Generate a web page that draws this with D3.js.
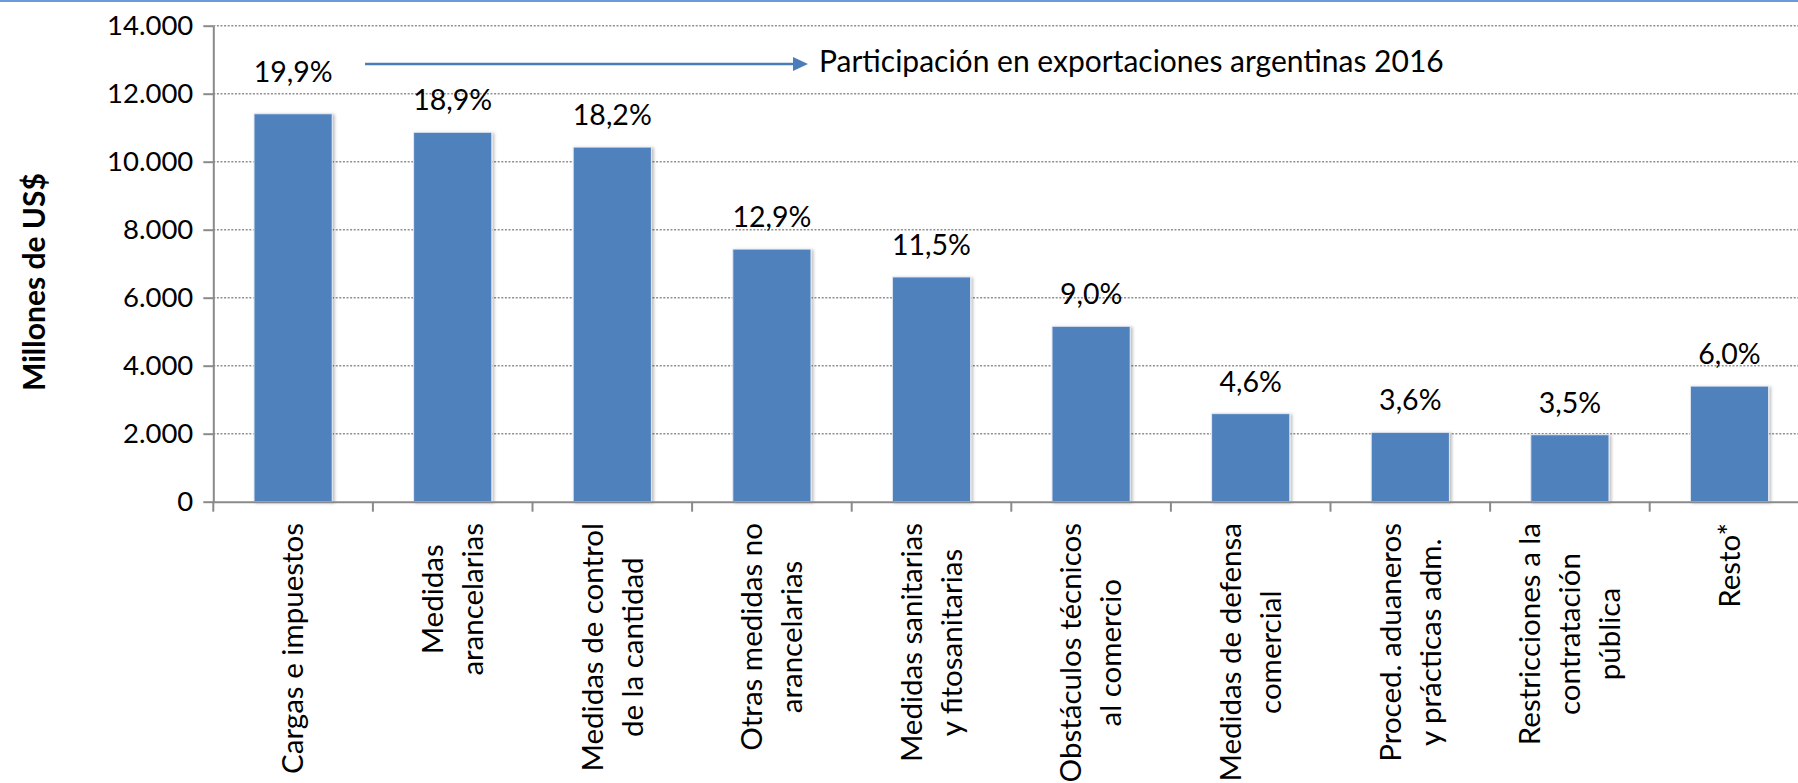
<!DOCTYPE html>
<html>
<head>
<meta charset="utf-8">
<script src="https://cdn.jsdelivr.net/npm/d3@7"></script>
<style>
  body { margin: 0; background: #fff; }
  svg { display: block; font-family: Lato, "Open Sans", sans-serif; }
</style>
</head>
<body>
<svg id="chart"></svg>
<script>
// categories, one entry per line of the rotated label
const categories = [
    ["Cargas e impuestos"],
    ["Medidas", "arancelarias"],
    ["Medidas de control", "de la cantidad"],
    ["Otras medidas no", "arancelarias"],
    ["Medidas sanitarias", "y fitosanitarias"],
    ["Obstáculos técnicos", "al comercio"],
    ["Medidas de defensa", "comercial"],
    ["Proced. aduaneros", "y prácticas adm."],
    ["Restricciones a la", "contratación", "pública"],
    ["Resto*"]
]
// millones de US$
const values = [11410, 10865, 10430, 7430, 6610, 5160, 2590, 2040, 1970, 3400]
// participación en exportaciones argentinas 2016
const shares = ["19,9%", "18,9%", "18,2%", "12,9%", "11,5%", "9,0%", "4,6%", "3,6%", "3,5%", "6,0%"]
const yTicks = [0, 2000, 4000, 6000, 8000, 10000, 12000, 14000]
const yTitle = "Millones de US$"
const note = "Participación en exportaciones argentinas 2016"

let W = 1798, H = 783
let svg = d3.select("#chart").attr("width", W).attr("height", H)

function translate(x, y){
    return "translate(" + x + ", " + y + ")"
}

let plotLeft = 213.3, plotTop = 25.7, plotBottom = 501.7, step = 159.6
let names = categories.map(c => c.join(" "))

let x = d3.scaleBand().domain(names).range([plotLeft, plotLeft + step * names.length]),
    y = d3.scaleLinear().domain([0, 14000]).range([plotBottom, plotTop])

let defs = svg.append("defs")
let f = defs.append("filter").attr("id", "shadow").attr("x", "-10%").attr("y", "-10%").attr("width", "130%").attr("height", "120%")
f.append("feDropShadow").attr("dx", 2).attr("dy", 1).attr("stdDeviation", 1.6)
    .attr("flood-color", "#000").attr("flood-opacity", 0.25)

// top border
svg.append("line").attr("x1", 0).attr("x2", W).attr("y1", 1).attr("y2", 1)
    .attr("stroke", "#6a9bd8").attr("stroke-width", 2)

// dotted gridlines
svg.append("g").selectAll("line").data(yTicks.filter(d => d > 0))
    .enter().append("line")
    .attr("x1", plotLeft).attr("x2", W)
    .attr("y1", d => y(d)).attr("y2", d => y(d))
    .attr("stroke", "#8f8f8f").attr("stroke-width", 1.5)
    .attr("stroke-dasharray", "2,1.6")

// bars
let barW = x.bandwidth() * 0.49
svg.append("g").selectAll("rect").data(values)
    .enter().append("rect")
    .attr("x", (d, i) => x(names[i]) + (x.bandwidth() - barW) / 2)
    .attr("y", d => y(d))
    .attr("width", barW)
    .attr("height", d => plotBottom - y(d))
    .attr("fill", "#4f81bd")
    .attr("stroke", "#e4eaf3").attr("stroke-width", 1)
    .attr("filter", "url(#shadow)")

// share labels (the first one sits a bit higher, clear of the arrow)
let labelGap = (d, i) => i == 0 ? 32 : 22
svg.append("g").selectAll("text").data(values)
    .enter().append("text")
    .attr("x", (d, i) => x(names[i]) + x.bandwidth() / 2)
    .attr("y", (d, i) => y(d) - labelGap(d, i))
    .attr("text-anchor", "middle")
    .style("font-size", "28.5px").style("fill", "#000")
    .text((d, i) => shares[i])

// y axis
let yAxis = d3.axisLeft(y).tickValues(yTicks).tickSize(10).tickSizeOuter(0).tickPadding(10)
    .tickFormat(d => d3.format(",")(d).replace(/,/g, "."))
let gy = svg.append("g").attr("transform", translate(plotLeft, 0)).call(yAxis)
gy.attr("font-family", null).attr("font-size", null)
gy.select(".domain").attr("stroke", "#8a8a8a").attr("stroke-width", 2)
gy.selectAll(".tick line").attr("stroke", "#8a8a8a").attr("stroke-width", 2)
gy.selectAll(".tick text").style("font-size", "27.5px").style("fill", "#000")

// x axis: baseline plus ticks at category boundaries
let xAxis = d3.axisBottom(x).tickSize(0).tickFormat("")
let gx = svg.append("g").attr("transform", translate(0, plotBottom)).call(xAxis)
gx.select(".domain").attr("stroke", "#8a8a8a").attr("stroke-width", 2)
gx.selectAll(".tick").remove()
let bounds = names.map(n => x(n)).concat([x.range()[1]])
gx.selectAll(".bound").data(bounds)
    .enter().append("line").attr("class", "bound")
    .attr("x1", d => d).attr("x2", d => d)
    .attr("y1", 0).attr("y2", 10)
    .attr("stroke", "#8a8a8a").attr("stroke-width", 2)

// rotated category labels, lines centred on each other, top aligned under the axis
let labelTop = 523, lineGap = 40
categories.forEach((lines, i) => {
    let cx = x(names[i]) + x.bandwidth() / 2
    let g = svg.append("g")
    let texts = lines.map((line, j) => g.append("text")
        .style("font-size", "29.5px").style("fill", "#000")
        .attr("text-anchor", "middle")
        .attr("dy", "0.35em")
        .text(line))
    let maxLen = d3.max(texts, t => t.node().getComputedTextLength())
    texts.forEach((t, j) => {
        let lx = cx + (j - (lines.length - 1) / 2) * lineGap
        t.attr("transform", translate(lx, labelTop + maxLen / 2) + " rotate(-90)")
    })
})

// y title
svg.append("text")
    .attr("transform", translate(34, 282) + " rotate(-90)")
    .attr("text-anchor", "middle").attr("dy", "0.35em")
    .style("font-size", "30px").style("font-weight", "bold").style("fill", "#000")
    .text(yTitle)

// annotation arrow
let arrowY = 64, ax0 = 365, ax1 = 808
svg.append("line").attr("x1", ax0).attr("x2", ax1 - 12).attr("y1", arrowY).attr("y2", arrowY)
    .attr("stroke", "#4a7ebb").attr("stroke-width", 2.5)
svg.append("path")
    .attr("d", "M" + ax1 + "," + arrowY + " L" + (ax1 - 15) + "," + (arrowY - 7) + " L" + (ax1 - 15) + "," + (arrowY + 7) + " Z")
    .attr("fill", "#4a7ebb")
svg.append("text").attr("x", 819).attr("y", 72)
    .style("font-size", "30px").style("fill", "#000")
    .text(note)
</script>
</body>
</html>
